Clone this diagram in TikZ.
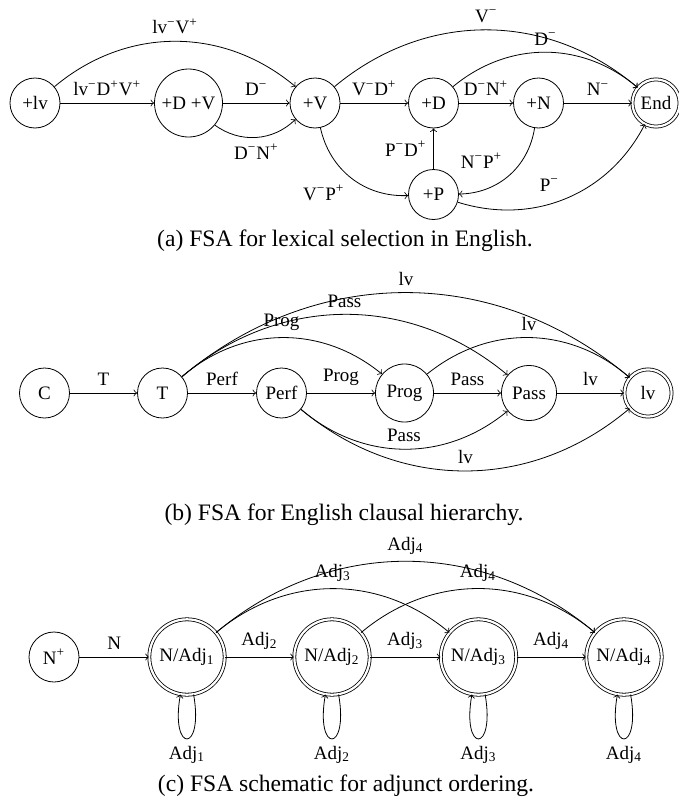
\documentclass[tikz,border=0pt]{standalone}
\usepackage{fontspec}
\setmainfont{Liberation Serif}
\usetikzlibrary{arrows}
\newcommand{\supminus}{\textsuperscript{\char"2212}}
\newcommand{\supplus}{\textsuperscript{+}}
\tikzstyle{state} = [circle, draw=black, minimum size=25pt, inner sep=1pt, text centered]
\tikzstyle{accept} = [state, double, double distance=1.1pt, minimum size=23.6pt]
\tikzstyle{final} = [accept, minimum size=37.7pt]
\tikzstyle{arrow} = [->,>=to]
\tikzstyle{selfloop} = [out=-80, in=-100, looseness=8, min distance=30pt]
\tikzstyle{caption} = [font=\fontsize{11.8}{14}\selectfont]

\begin{document}
\begin{tikzpicture}[x=0.5pt, y=-0.5pt, font=\fontsize{9.5}{11}\selectfont]
            \useasboundingbox (0,0) rectangle (679,803);

            \node (plus_lv) [state] at (35,103) {+lv};
            \node (plus_dv) [state, minimum size=34pt, node distance=76.75pt, right of=plus_lv] {+D +V};
            \node (plus_v) [state, node distance=63.25pt, right of=plus_dv] {+V};
            \node (plus_d) [state, node distance=59.25pt, right of=plus_v] {+D};
            \node (plus_n) [state, node distance=52.5pt, right of=plus_d] {+N};
            \node (end) [accept, node distance=58.75pt, right of=plus_n] {End};
            \node (plus_p) [state, node distance=45.75pt, below of=plus_d] {+P};
            \node (cap_a) [caption] at (345,241) {(a) FSA for lexical selection in English.};

            \draw [arrow] (plus_lv) -- node [above] {lv\supminus D\supplus V\supplus} (plus_dv);
            \draw [arrow] (plus_lv) to [bend left=40] node [above] {lv\supminus V\supplus} (plus_v);
            \draw [arrow] (plus_dv) -- node [above] {D\supminus} (plus_v);
            \draw [arrow] (plus_dv) to [bend right=40] node [below] {D\supminus N\supplus} (plus_v);
            \draw [arrow] (plus_v) -- node [above] {V\supminus D\supplus} (plus_d);
            \draw [arrow] (plus_v) to [bend left=40] node [above] {V\supminus} (end);
            \draw [arrow] (plus_v) to [bend right=40] node [below left] {V\supminus P\supplus} (plus_p);
            \draw [arrow] (plus_d) -- node [above] {D\supminus N\supplus} (plus_n);
            \draw [arrow] (plus_d) to [bend left=40] node [above] {D\supminus} (end);
            \draw [arrow] (plus_n) -- node [above] {N\supminus} (end);
            \draw [arrow] (plus_n) to [bend left=40] node [above left] {N\supminus P\supplus} (plus_p);
            \draw [arrow] (plus_p) -- node [left] {P\supminus D\supplus} (plus_d);
            \draw [arrow] (plus_p) to [bend right=40] node [above left] {P\supminus} (end);

            \node (c) [state] at (44.5,393) {C};
            \node (t) [state, node distance=59pt, right of=c] {T};
            \node (perf) [state, node distance=59.5pt, right of=t] {Perf};
            \node (prog) [state, minimum size=29pt, node distance=61.5pt, right of=perf] {Prog};
            \node (pass) [state, minimum size=27.6pt, node distance=62.25pt, right of=prog] {Pass};
            \node (lv) [accept, node distance=59.5pt, right of=pass] {lv};
            \node (cap_b) [caption] at (344,515) {(b) FSA for English clausal hierarchy.};

            \draw [arrow] (c) -- node [above] {T} (t);
            \draw [arrow] (t) -- node [above] {Perf} (perf);
            \draw [arrow] (perf) -- node [above] {Prog} (prog);
            \draw [arrow] (prog) -- node [above] {Pass} (pass);
            \draw [arrow] (pass) -- node [above] {lv} (lv);
            \draw [arrow] (t) to [bend left=40] node [above] {Prog} (prog);
            \draw [arrow] (t) to [bend left=40] node [above] {Pass} (pass);
            \draw [arrow] (t) to [bend left=40] node [above] {lv} (lv);
            \draw [arrow] (prog) to [bend left=40] node [above] {lv} (lv);
            \draw [arrow] (perf) to [bend right=40] node [above] {Pass} (pass);
            \draw [arrow] (perf) to [bend right=40] node [above] {lv} (lv);

            \node (n_plus) [state] at (54,657) {N\supplus};
            \node (n_adj1) [final, node distance=66.5pt, right of=n_plus] {N/Adj\textsubscript{1}};
            \node (n_adj2) [final, node distance=72.5pt, right of=n_adj1] {N/Adj\textsubscript{2}};
            \node (n_adj3) [final, node distance=73.25pt, right of=n_adj2] {N/Adj\textsubscript{3}};
            \node (n_adj4) [final, node distance=72.75pt, right of=n_adj3] {N/Adj\textsubscript{4}};
            \node (cap_c) [caption] at (346,786) {(c) FSA schematic for adjunct ordering.};

            \draw [arrow] (n_plus) -- node [above] {N} (n_adj1);
            \draw [arrow] (n_adj1) -- node [above] {Adj\textsubscript{2}} (n_adj2);
            \draw [arrow] (n_adj2) -- node [above] {Adj\textsubscript{3}} (n_adj3);
            \draw [arrow] (n_adj3) -- node [above] {Adj\textsubscript{4}} (n_adj4);
            \draw [arrow] (n_adj1) to [bend left=40] node [above] {Adj\textsubscript{3}} (n_adj3);
            \draw [arrow] (n_adj1) to [bend left=40] node [above] {Adj\textsubscript{4}} (n_adj4);
            \draw [arrow] (n_adj2) to [bend left=40] node [above] {Adj\textsubscript{4}} (n_adj4);
            \draw [arrow] (n_adj1) to [selfloop] node [below] {Adj\textsubscript{1}} (n_adj1);
            \draw [arrow] (n_adj2) to [selfloop] node [below] {Adj\textsubscript{2}} (n_adj2);
            \draw [arrow] (n_adj3) to [selfloop] node [below] {Adj\textsubscript{3}} (n_adj3);
            \draw [arrow] (n_adj4) to [selfloop] node [below] {Adj\textsubscript{4}} (n_adj4);
        \end{tikzpicture}
\end{document}
